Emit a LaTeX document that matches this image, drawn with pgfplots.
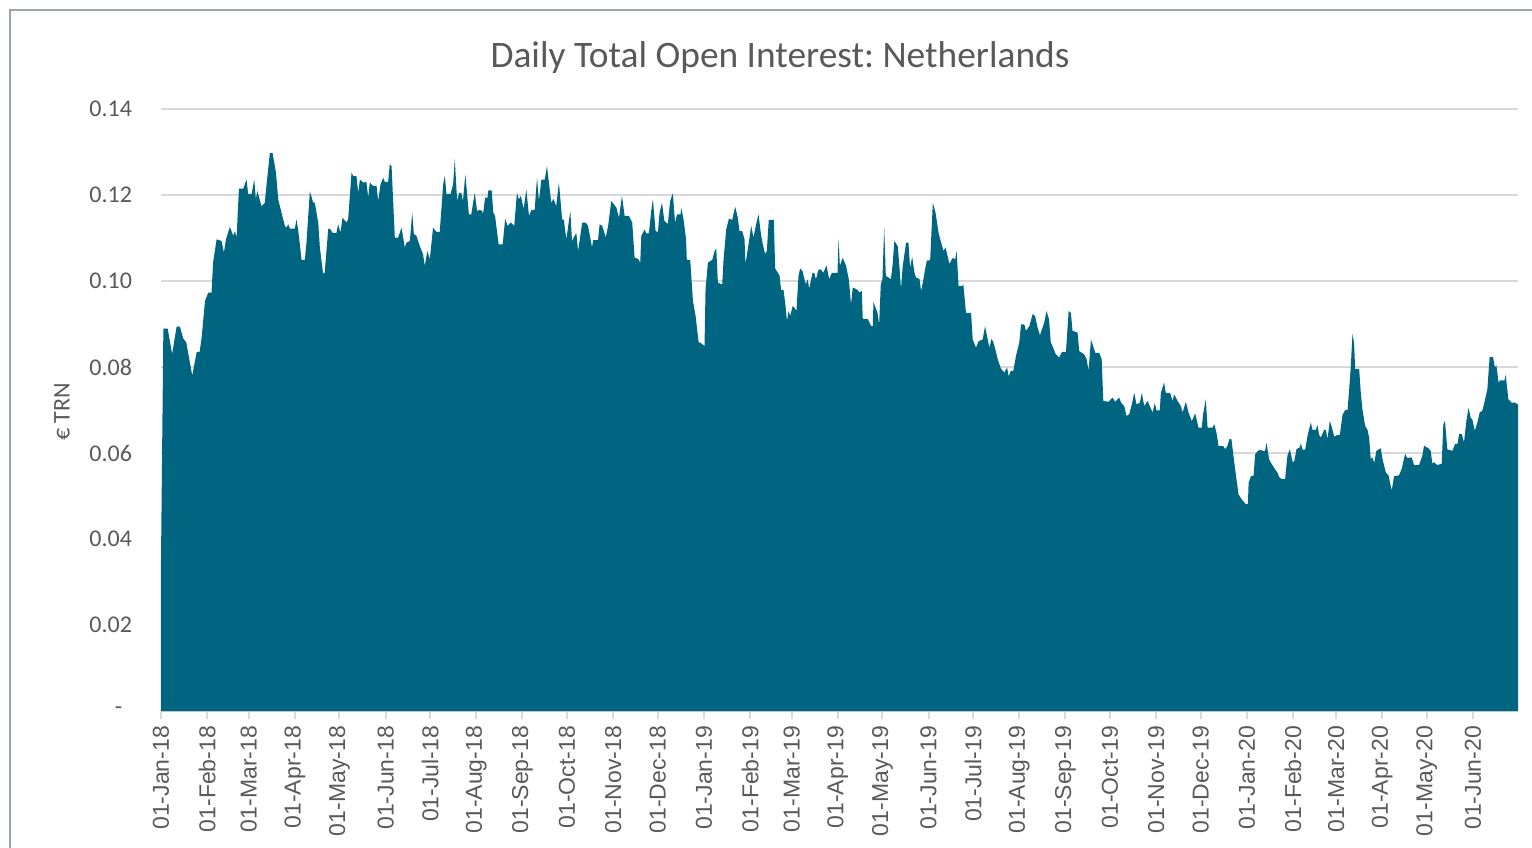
\documentclass[border=0pt]{standalone}
\usepackage{pgfplots}
\pgfplotsset{compat=1.18}
\usepackage{fontspec}
\setmainfont{Carlito}
\newfontfamily\arialfont{Liberation Sans}
\definecolor{area}{HTML}{006580}
\definecolor{txt}{HTML}{595959}
\definecolor{grd}{HTML}{D9D9D9}
\definecolor{frm}{HTML}{9EA5A5}
\frenchspacing
\begin{document}
\begin{tikzpicture}
\begin{axis}[
    at={(0,0)}, anchor=south west,
    scale only axis,
    width=678.5pt, height=301pt,
    xmin=0, xmax=912.3,
    ymin=0, ymax=0.14,
    axis lines*=left,
    separate axis lines,
    x axis line style={grd, line width=1pt},
    y axis line style={draw=none},
    ymajorgrids,
    major grid style={grd, line width=1pt},
    tick align=outside,
    major tick length=4pt,
    xtick style={grd, line width=1pt},
    ytick style={draw=none},
    xtick={0,31,59,90,120,151,181,212,243,273,304,334,365,396,424,455,485,516,546,577,608,638,669,699,730,761,790,821,851,882},
    xticklabels={01-Jan-18,01-Feb-18,01-Mar-18,01-Apr-18,01-May-18,01-Jun-18,01-Jul-18,01-Aug-18,01-Sep-18,01-Oct-18,01-Nov-18,01-Dec-18,01-Jan-19,01-Feb-19,01-Mar-19,01-Apr-19,01-May-19,01-Jun-19,01-Jul-19,01-Aug-19,01-Sep-19,01-Oct-19,01-Nov-19,01-Dec-19,01-Jan-20,01-Feb-20,01-Mar-20,01-Apr-20,01-May-20,01-Jun-20},
    xticklabel style={rotate=90, anchor=east, font=\arialfont\fontsize{11.5}{12}\selectfont, text=txt},
    ytick={0,0.02,0.04,0.06,0.08,0.10,0.12,0.14},
    yticklabels={{\makebox[8.5pt][l]{-}},0.02,0.04,0.06,0.08,0.10,0.12,0.14},
    yticklabel style={font=\fontsize{12}{13}\selectfont, text=txt, xshift=-7pt},
]
\addplot[fill=area, draw=none] coordinates {
(0,0.035) (1.6,0.0889) (4.5,0.0889) (7.5,0.083) (10.5,0.0894) (12.7,0.0894) (15,0.0866) (17,0.0857)
(21,0.078) (24,0.0835) (26,0.0835) (27.3,0.0868) (29.6,0.0954) (31.8,0.0973) (34,0.0973) (35,0.1043)
(37.4,0.1097) (40.7,0.1093) (42.3,0.1066) (43.7,0.1097) (46.3,0.1126) (48.6,0.1105) (49.7,0.1116) (50.8,0.1101)
(52.4,0.1215) (55.3,0.1215) (56.4,0.1225) (57.5,0.1236) (58.6,0.1202) (60.9,0.1202) (62.7,0.1236) (63.8,0.119)
(64.7,0.121) (67.6,0.1174) (69.8,0.1182) (71,0.1225) (73.2,0.1298) (75,0.1298) (77.3,0.1252) (78.8,0.119)
(81,0.1159) (83.3,0.1128) (84.4,0.1124) (85.5,0.1132) (86.6,0.1122) (90,0.1122) (91.1,0.1143) (92.2,0.112)
(94.5,0.1049) (96.7,0.1049) (97.8,0.1089) (100.1,0.1209) (102.3,0.1182) (103.4,0.1182) (105.7,0.1136) (106.8,0.1078)
(109,0.1016) (110.1,0.102) (112.4,0.112) (113.5,0.1122) (115.3,0.1112) (118,0.1112) (119.1,0.1132) (120.7,0.1112)
(122,0.1147) (124.7,0.1136) (125.8,0.1143) (128.1,0.1252) (129.2,0.1244) (131.4,0.1244) (132.6,0.1205) (133.7,0.1236)
(135.9,0.1229) (138.1,0.123) (139.3,0.1194) (140.4,0.1229) (142.6,0.1221) (144.9,0.1221) (146,0.1186) (147.6,0.1225)
(149.4,0.124) (150.5,0.123) (152.7,0.123) (153.8,0.1271) (155,0.1267) (157.2,0.1101) (159.4,0.1101) (161.7,0.1124)
(163.9,0.1078) (165,0.1089) (167.3,0.1093) (168.9,0.1159) (170,0.1109) (171.7,0.1105) (174,0.1081) (176.2,0.1062)
(177.3,0.1035) (179.1,0.107) (180.7,0.105) (182.9,0.1124) (185.2,0.1114) (187.4,0.1114) (189.7,0.1225) (190.8,0.1244)
(191.9,0.1202) (194.6,0.1202) (196.4,0.1225) (197.5,0.1283) (199.1,0.1186) (200.4,0.1205) (201.9,0.1205) (203,0.1186)
(204.6,0.1248) (207,0.1155) (208.6,0.1155) (210.9,0.1205) (212.5,0.1163) (214.3,0.1165) (216,0.1163) (216.5,0.1155)
(217.9,0.1194) (219.5,0.1194) (220.1,0.1211) (222.3,0.1211) (223.4,0.1159) (224.6,0.1151) (227,0.1085) (229.7,0.1085)
(231.4,0.1145) (233,0.1128) (235.2,0.1136) (237.5,0.1128) (239.3,0.1205) (240.6,0.119) (242,0.1198) (243.8,0.1167)
(245.6,0.1213) (247.4,0.1151) (249,0.1165) (251.2,0.1165) (252.8,0.124) (254.1,0.1186) (255.7,0.1236) (258,0.1236)
(259.5,0.1267) (261.3,0.1213) (262.4,0.1182) (263.9,0.1191) (265.7,0.1174) (267.5,0.1229) (269.7,0.1143) (270.8,0.1143)
(272.5,0.1097) (275.2,0.1163) (276.3,0.1093) (279.2,0.1112) (280.4,0.107) (283.2,0.1136) (285.5,0.1136) (287.1,0.1128)
(289.8,0.1078) (290.5,0.1095) (293.8,0.1095) (294.9,0.1132) (296.7,0.1128) (299,0.1101) (300.6,0.1128)
(302.7,0.1186) (306.1,0.1171) (307.9,0.1147) (309.9,0.1198) (311.7,0.1151) (314.6,0.1151) (316.8,0.1136) (318.4,0.1054)
(320.6,0.1052) (322.2,0.1043) (322.9,0.1105) (325.1,0.112) (326.2,0.1111) (328,0.1111) (329.6,0.1163) (330.7,0.119)
(332.5,0.1116) (334.1,0.1114) (335.2,0.1159) (336.8,0.1182) (338.4,0.114) (340.7,0.1132) (342.3,0.1186) (344.1,0.1204)
(345.6,0.1136) (347,0.1155) (349.3,0.1155) (349.7,0.1171) (351.3,0.1143) (353,0.1097) (353.5,0.1049) (355.8,0.1049)
(357.6,0.0954) (359.4,0.0919) (361.4,0.0858) (363.2,0.0855) (365.4,0.0849) (366.1,0.0981) (367.7,0.1043) (370.6,0.1049)
(372.2,0.107) (373.3,0.1075) (374.4,0.0996) (377.3,0.0992) (378.2,0.105) (380,0.112) (381.8,0.1145) (384,0.1142)
(386,0.1173) (387.8,0.1147) (388.9,0.1116) (390.7,0.1116) (392.3,0.1097) (392.9,0.1039) (394.5,0.1074) (396.8,0.1128)
(398.3,0.1101) (400.1,0.1132) (401.7,0.1155) (403.5,0.1105) (404.6,0.1085) (406.2,0.1062) (407.3,0.107) (408.6,0.1142)
(412,0.1142) (412.9,0.1029) (414.7,0.1019) (415.8,0.1013) (416.9,0.0979) (418.5,0.0979) (419.9,0.0942) (420.8,0.0907)
(421.9,0.093) (423,0.0919) (424.7,0.0942) (426.3,0.0936) (427.2,0.093) (428.6,0.1012) (429.7,0.1029) (431.3,0.1023)
(433.5,0.0992) (434.7,0.1004) (435.8,0.0982) (438,0.1019) (439.2,0.1019) (440.3,0.1004) (442,0.1026) (443.6,0.1027)
(445.2,0.1019) (447.4,0.1036) (449.2,0.1004) (451,0.1019) (454.8,0.1019) (455.5,0.1097) (456.4,0.1035)
(458.3,0.1054) (460.6,0.1035) (462.4,0.1004) (463.9,0.0946) (465.1,0.0985) (468.4,0.0979) (469.5,0.0973) (471.1,0.0977)
(471.8,0.0912) (475.1,0.0912) (477.4,0.0895) (478.5,0.0895) (479,0.0951) (481.7,0.0926) (482.8,0.0899) (483.9,0.0992)
(485,0.1004) (486.2,0.1124) (487.3,0.1012) (489.1,0.1008) (490.7,0.1004) (491.9,0.1039) (493,0.1093) (495.3,0.1081)
(496.4,0.1035) (497.5,0.0981) (498.6,0.1033) (500.9,0.1089) (502.5,0.1089) (503.6,0.1031) (505,0.1056) (506.5,0.102)
(507.6,0.1008) (509.9,0.1005) (511,0.0977) (512.1,0.0995) (513.3,0.102) (514.9,0.1048) (517.1,0.1048) (518.9,0.1182)
(520.7,0.1159) (522.9,0.1109) (524.5,0.1089) (526.1,0.107) (527.4,0.1078) (530.1,0.1039) (531.2,0.1047) (532.3,0.1054)
(533.9,0.105) (534.9,0.107) (536.2,0.0988) (538.5,0.0988) (539.4,0.0992) (541.2,0.0926) (544.6,0.0926) (545.7,0.0864)
(547.9,0.0845) (549.7,0.086) (552.4,0.0864) (554,0.0895) (555.8,0.0864) (556.9,0.0845) (558.4,0.0866) (559.6,0.0857)
(560.9,0.0841) (562.5,0.0818) (564.7,0.0796) (567,0.0787) (568.8,0.0799) (569.9,0.0778) (571.4,0.0791) (573,0.0791)
(574.8,0.0826) (577,0.0857) (578.2,0.0899) (580.4,0.0899) (581.5,0.0884) (583.8,0.0895) (586,0.0923) (587.6,0.0919)
(589.3,0.0892) (590.9,0.0874) (592.7,0.0892) (593.8,0.0903) (595.3,0.093) (597,0.0911) (598.2,0.0857) (599.3,0.0849)
(601.5,0.083) (603.8,0.0822)
(605.7,0.0835) (608.4,0.0835) (610.2,0.093) (611.7,0.0926) (612.8,0.0884) (616.2,0.088) (617.3,0.0837) (620.7,0.0829)
(622.3,0.0818) (623.6,0.0791) (625.2,0.0864) (628.1,0.0833) (630.8,0.0833) (632.4,0.0818) (633.5,0.0721) (637.1,0.0719)
(638.6,0.0725) (639.7,0.0729) (641.5,0.0719) (644.2,0.0729) (645.4,0.0717) (647.6,0.0709) (649.1,0.0686) (650.9,0.069)
(652.7,0.0713) (654.3,0.074) (655.8,0.0713) (658.1,0.0717) (659.4,0.074) (661,0.0709) (663.2,0.0721) (664.8,0.0709)
(666.6,0.0694) (668.1,0.0716) (669.3,0.0699) (671.5,0.0699) (672.2,0.074) (674.4,0.0764) (675.5,0.074) (678.4,0.074)
(680,0.0721) (681.2,0.0736) (683.4,0.0721) (685.6,0.0709) (686.8,0.0694) (689,0.0719) (690.8,0.0694) (693,0.0674)
(695.3,0.0692) (697.5,0.0659) (699.7,0.0659) (700.6,0.069) (702.4,0.0725) (703.6,0.0659) (706.9,0.0659) (708.1,0.0667)
(709.6,0.0647) (711,0.0616) (714.1,0.0616) (715.4,0.0609) (716.9,0.0616) (718.3,0.0632) (719.6,0.0633) (721,0.0593)
(722.6,0.055) (724.4,0.0504) (726.6,0.0492) (729.3,0.0481) (730.7,0.0481) (731.2,0.0531) (732.9,0.0547) (734.5,0.0547)
(735.6,0.0597) (737.4,0.0605) (739,0.0607) (740.9,0.0605) (742.3,0.0605) (743.2,0.0624) (745,0.0585) (746.8,0.0574)
(749,0.0562) (750.6,0.0554)
(751.7,0.0544) (753.5,0.0539) (755.7,0.0539) (757.3,0.0594) (758.9,0.0609) (760.7,0.058) (761.8,0.058) (763.4,0.0609)
(765.6,0.0613) (766.3,0.0623) (767.4,0.0608) (769.2,0.0608) (770.8,0.064) (773,0.0671) (774.1,0.0654) (776.4,0.0654)
(777.5,0.0665) (778.6,0.0642) (779.7,0.0636) (782,0.0654) (783.1,0.0654) (784.2,0.0632) (785.8,0.0675) (787.5,0.0655)
(788.7,0.0638) (790.9,0.0642) (792.5,0.0642) (794.3,0.0688) (796.1,0.07) (797.7,0.07) (798.8,0.0748) (799.9,0.0802)
(801,0.0877) (802.1,0.0855) (802.8,0.0795) (805.5,0.0795) (806.6,0.074) (807.7,0.0702) (809.5,0.0663) (811.1,0.0654)
(812.2,0.0636) (813.3,0.0586) (814.4,0.059) (815.6,0.0577) (817.1,0.0605) (820,0.0611) (821.2,0.0586) (823.4,0.0555)
(825.2,0.0548) (827.4,0.0513) (829,0.0546) (832.3,0.0548) (834.1,0.0563) (836.4,0.0598) (837.9,0.0588) (840.8,0.059)
(842.4,0.0572) (845.8,0.0572) (848,0.0594) (849.1,0.0617) (852,0.0611) (853.6,0.0605) (854.7,0.0575) (855.8,0.0579)
(856.9,0.0575) (858.1,0.0572) (861,0.0575) (862.1,0.0667) (863.2,0.0675) (864.8,0.0608) (868.2,0.0605) (870,0.0621)
(871.6,0.0621) (872.7,0.0644) (874.5,0.0644) (876,0.0625) (877.6,0.0675) (879,0.0705) (880.5,0.0682) (881.6,0.0678)
(883.2,0.0652) (885,0.0671) (886.5,0.0694) (888.3,0.0698) (889.4,0.0713) (891.7,0.0748) (893.2,0.0823) (895.5,0.0823)
(896.8,0.0798) (897.7,0.0805) (899.3,0.0763) (900.2,0.0769) (903.2,0.0769) (904,0.0782) (905.8,0.0725) (908,0.0717)
(910.7,0.0717) (911.8,0.0713) (912.3,0.0713)
} \closedcycle;
\end{axis}
\node[font=\fontsize{18.7}{22}\selectfont, text=txt] at (309.5pt,326.5pt) {Daily Total Open Interest: Netherlands};
\node[rotate=90, font=\fontsize{12}{13}\selectfont, text=txt] at (-49.5pt,149.5pt) {€ TRN};
\draw[frm, line width=1pt] (-75.5pt,-100pt) -- (-75.5pt,350.5pt) -- (720pt,350.5pt);
\pgfresetboundingbox
\useasboundingbox (-80.5pt,-68pt) rectangle (685.5pt,355.5pt);
\end{tikzpicture}
\end{document}
